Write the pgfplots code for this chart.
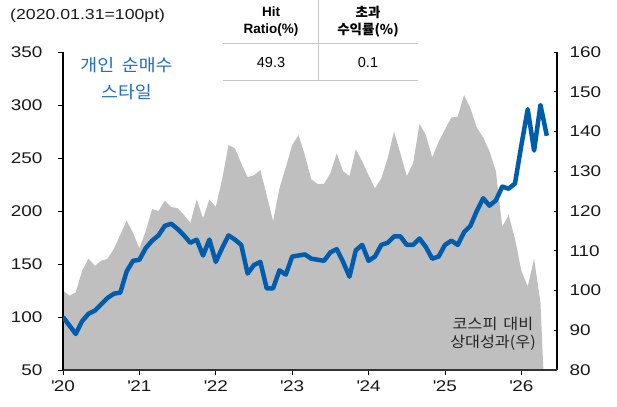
\documentclass[border=0pt]{standalone}
\usepackage{pgfplots}
\usepackage{pgfplotstable}
\pgfplotsset{compat=1.18}
\usepackage{fontspec}
\setmainfont{Liberation Sans}[FakeStretch=1.22]
\newfontfamily\plainfont{Liberation Sans}
\newfontfamily\krfont{Noto Sans CJK KR}[FakeStretch=1.08]
\newfontfamily\krplain{Noto Sans CJK KR}

\definecolor{lineblue}{RGB}{0,92,172}
\definecolor{textblue}{RGB}{30,110,190}
\definecolor{areagray}{RGB}{191,191,191}
\definecolor{rulegray}{RGB}{200,200,200}

% month index (0 = 2020.01), relative performance vs KOSPI (right axis)
\pgfplotstableread{
m v
0 100
1 98.7
2 99.5
3 105
4 108
5 106.2
6 107.5
7 108
8 110.5
9 114
10 117.6
11 114.5
12 110.6
13 115
14 120.5
15 120
16 122.6
17 121
18 120.7
19 119
20 117
21 122.9
22 118.2
23 122.9
24 121
25 128
26 136.6
27 135.8
28 132
29 128.5
30 129
31 130.3
32 124
33 117.5
34 125.7
35 131
36 136.6
37 139.1
38 134
39 128
40 126.8
41 126.8
42 129.5
43 134.5
44 130
45 128.8
46 135.5
47 132.5
48 129
49 125.7
50 128.2
51 133.3
52 140
53 134.5
54 128.8
55 132
56 141.9
57 139.1
58 133.5
59 137.4
60 140.5
61 143.5
62 143.7
63 149.2
64 145.8
65 141
66 138.5
67 135
68 130
69 116
70 119
71 113
72 105
73 101
74 108
75 97
76 60
}\kospi

% style index (left axis)
\pgfplotstableread{
m v
0 100
1 92
2 84
3 96
4 103
5 106
6 112
7 118
8 122
9 123
10 143
11 153
12 154
13 165
14 172
15 177
16 186
17 188
18 183
19 177
20 170
21 173
22 158
23 173
24 152
25 165
26 177
27 173
28 168
29 141
30 149
31 152
32 127
33 127
34 144
35 140
36 157
37 158
38 159
39 155
40 154
41 153
42 161
43 164
44 152
45 138
46 163
47 168
48 153
49 157
50 168
51 170
52 176
53 176
54 168
55 168
56 174
57 166
58 155
59 157
60 168
61 172
62 168
63 180
64 186
65 200
66 212
67 205
68 210
69 223
70 221
71 226
72 262
73 296
74 257
75 300
76 271
}\style

\begin{document}
\begin{tikzpicture}[x=1pt,y=1pt]
\pgfplotsset{
    every axis/.append style={
        width=494pt, height=318pt, scale only axis,
        xmin=0, xmax=77.6,
        axis line style={-},
        /pgf/number format/assume math mode=true,
        ticklabel style={font=\fontsize{15.5}{16}\selectfont, text=black!90},
    },
}
\begin{axis}[
    axis x line=none,
    axis y line*=right,
    ymin=80, ymax=160,
    ytick={80,90,...,160},
    tick align=inside,
    major tick length=3pt,
    tick style={black, line width=0.8pt},
    y axis line style={black, line width=1.1pt},
    yticklabel style={xshift=9pt},
]
\addplot[fill=areagray, draw=none] table[x=m, y=v] {\kospi} \closedcycle;
\end{axis}

\begin{axis}[
    axis x line*=bottom,
    axis y line*=left,
    ymin=50, ymax=350,
    ytick={50,100,...,350},
    xtick={0,12,...,72},
    xticklabels={\textquotesingle 20,\textquotesingle 21,\textquotesingle 22,\textquotesingle 23,\textquotesingle 24,\textquotesingle 25,\textquotesingle 26},
    tick align=outside,
    major tick length=5pt,
    tick style={black, line width=0.8pt},
    x axis line style={black!80, line width=1.6pt},
    y axis line style={black, line width=1.1pt},
    yticklabel style={xshift=-12pt},
    xticklabel style={yshift=-2pt},
]
\addplot[lineblue, line width=4.5pt, line join=round] table[x=m, y=v] {\style};
\end{axis}

% header note
\node[anchor=west, font=\fontsize{14.5}{16}\selectfont, text=black!90, inner sep=0pt] at (-53,354) {(2020.01.31=100pt)};

% summary table
\draw[rulegray, line width=1pt] (160,326) -- (355,326);
\draw[rulegray, line width=1pt] (160,289) -- (355,289);
\draw[rulegray, line width=1pt] (255,370) -- (255,289);
\node[align=center, font=\plainfont\bfseries\fontsize{13.5}{17}\selectfont] at (208,348.5) {Hit\\Ratio(\%)};
\node[align=center, font=\krplain\bfseries\fontsize{13.5}{17}\selectfont] at (305,348.5) {초과\\수익률(\%)};
\node[font=\plainfont\fontsize{14.5}{16}\selectfont] at (208,307) {49.3};
\node[font=\plainfont\fontsize{14.5}{16}\selectfont] at (305,307) {0.1};

% series labels
\node[align=center, text=textblue, font=\krfont\fontsize{17}{27}\selectfont] at (63.5,291.5) {개인\hspace{0.45em}순매수\\스타일};
\node[align=center, text=black!85, font=\krfont\fontsize{15}{18}\selectfont] at (430,36) {코스피\hspace{0.4em}대비\\상대성과(우)};

\pgfresetboundingbox
\path (-63,-36) rectangle (554,370);
\end{tikzpicture}
\end{document}
